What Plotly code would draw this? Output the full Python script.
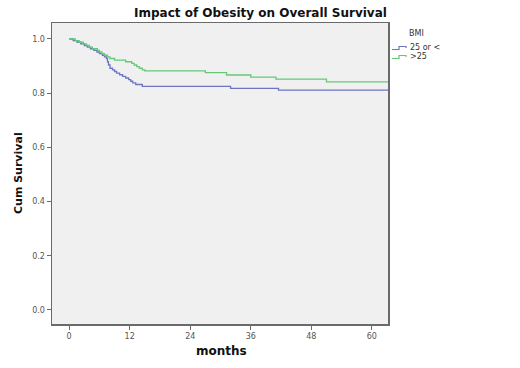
import plotly.graph_objects as go

# Data: Kaplan-Meier step curves (months, cumulative survival)
groups = ["25 or <", ">25"]
months_low = [0, 0.8, 1.6, 2.3, 3.0, 3.6, 4.2, 4.9, 5.5, 6.0, 6.6, 7.0, 7.4, 7.6, 7.8, 8.1,
              8.6, 9.0, 9.4, 10.0, 10.6, 11.2, 11.8, 12.2, 12.6, 13.2, 14.5, 32.0, 41.5, 63.2]
surv_low = [1.0, 0.994, 0.988, 0.982, 0.976, 0.970, 0.964, 0.958, 0.952, 0.946, 0.940, 0.934,
            0.928, 0.916, 0.904, 0.892, 0.886, 0.880, 0.874, 0.868, 0.862, 0.856, 0.850, 0.844,
            0.838, 0.832, 0.825, 0.818, 0.811, 0.811]
months_high = [0, 1.2, 2.0, 2.8, 3.4, 4.0, 4.6, 5.6, 6.0, 6.5, 7.0, 7.6, 8.1, 9.0, 11.2, 12.4,
               12.9, 13.4, 13.9, 14.5, 15.0, 27.0, 31.2, 36.0, 41.0, 51.0, 63.2]
surv_high = [1.0, 0.994, 0.988, 0.982, 0.976, 0.970, 0.964, 0.958, 0.952, 0.946, 0.940, 0.934,
             0.928, 0.922, 0.916, 0.910, 0.904, 0.898, 0.892, 0.886, 0.882, 0.876, 0.867, 0.859,
             0.852, 0.842, 0.842]
x_ticks = [0, 12, 24, 36, 48, 60]
y_ticks = [0.0, 0.2, 0.4, 0.6, 0.8, 1.0]

BLUE = "#6d75c2"
GREEN = "#62c977"
FONT = "DejaVu Sans"

fig = go.Figure()
fig.add_trace(go.Scatter(x=months_low, y=surv_low, mode="lines", line_shape="hv",
                         line=dict(color=BLUE, width=1.3), name=groups[0], showlegend=False))
fig.add_trace(go.Scatter(x=months_high, y=surv_high, mode="lines", line_shape="hv",
                         line=dict(color=GREEN, width=1.3), name=groups[1], showlegend=False))

L, R, T, B = 52, 388, 23, 324
W, H = 520, 368
def px(x):
    return (x - L) / (R - L)
def py(y):
    return (B - y) / (B - T)

axis_common = dict(showgrid=False, zeroline=False, showline=True, mirror=True,
                   linecolor="#6a6a6a", linewidth=1.5, ticks="outside", ticklen=4,
                   tickcolor="#6a6a6a", tickwidth=1,
                   tickfont=dict(family=FONT, size=8, color="#555555"))

fig.update_xaxes(range=[-3.4, 63.2], tickvals=x_ticks, ticktext=[str(v) for v in x_ticks],
                 **axis_common)
fig.update_yaxes(range=[-0.052, 1.059], tickvals=y_ticks,
                 ticktext=[f"{v:.1f}" for v in y_ticks], **axis_common)

annotations = [
    dict(text="<b>Impact of Obesity on Overall Survival</b>", x=px(260), y=py(13),
         xref="paper", yref="paper", showarrow=False, xanchor="center", yanchor="middle",
         font=dict(family=FONT, size=12, color="#111111")),
    dict(text="<b>months</b>", x=px(221), y=py(351), xref="paper", yref="paper",
         showarrow=False, xanchor="center", yanchor="middle",
         font=dict(family=FONT, size=12, color="#111111")),
    dict(text="<b>Cum Survival</b>", x=px(18), y=py(173), xref="paper", yref="paper",
         showarrow=False, xanchor="center", yanchor="middle", textangle=-90,
         font=dict(family=FONT, size=11, color="#111111")),
    dict(text="BMI", x=px(407), y=py(33), xref="paper", yref="paper", showarrow=False,
         xanchor="left", yanchor="middle", font=dict(family=FONT, size=8, color="#333333")),
    dict(text=groups[0], x=px(408), y=py(47.5), xref="paper", yref="paper", showarrow=False,
         xanchor="left", yanchor="middle", font=dict(family=FONT, size=8, color="#333333")),
    dict(text=groups[1], x=px(408), y=py(56.5), xref="paper", yref="paper", showarrow=False,
         xanchor="left", yanchor="middle", font=dict(family=FONT, size=8, color="#333333")),
]

def step_symbol(y0, color):
    pts = [(392, y0 + 1.5), (399, y0 + 1.5), (399, y0 - 1.5), (406, y0 - 1.5), (406, y0)]
    path = "M " + " L ".join(f"{px(a):.5f},{py(b):.5f}" for a, b in pts)
    return dict(type="path", xref="paper", yref="paper", path=path,
                line=dict(color=color, width=1.2))

shapes = [step_symbol(48, BLUE), step_symbol(57, GREEN)]

fig.update_layout(width=W, height=H, margin=dict(l=L, r=W - R, t=T, b=H - B),
                  plot_bgcolor="#f0f0f0", paper_bgcolor="white",
                  annotations=annotations, shapes=shapes, showlegend=False,
                  hovermode=False)

fig.write_html("out.html", config={"displayModeBar": False, "staticPlot": True},
               post_script="document.body.style.margin='0';document.body.style.overflow='hidden';")
